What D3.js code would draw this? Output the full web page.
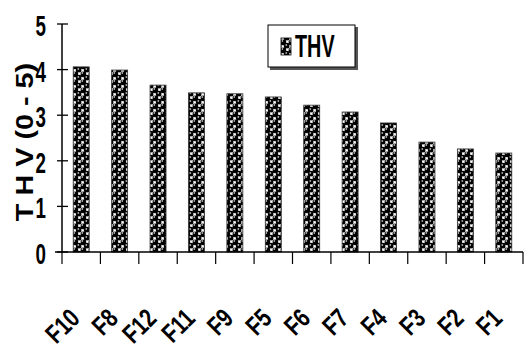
<!DOCTYPE html>
<html><head><meta charset="utf-8">
<script src="https://cdn.jsdelivr.net/npm/d3@7"></script>
<style>body{margin:0;background:#fff}svg{display:block}</style>
</head><body>
<script>
const categories = ["F10","F8","F12","F11","F9","F5","F6","F7","F4","F3","F2","F1"];
const thv = [4.06,3.99,3.66,3.49,3.47,3.40,3.22,3.07,2.83,2.41,2.26,2.17];
const yTicks = [0,1,2,3,4,5];
const seriesName = "THV";
const yTitle = "T H V  (0 - 5)";

const W=526,H=361;
const svg=d3.select("body").append("svg").attr("width",W).attr("height",H);
const font="'Liberation Sans Narrow','Arial Narrow','Liberation Sans',sans-serif";

const defs=svg.append("defs");
const pat=defs.append("pattern").attr("id","balls").attr("patternUnits","userSpaceOnUse")
  .attr("width",8).attr("height",8).attr("x",1).attr("y",0);
pat.append("rect").attr("width",8).attr("height",8).attr("fill","#fff");
pat.append("rect").attr("x",4.6).attr("y",0.6).attr("width",2.8).attr("height",2.8).attr("fill","none").attr("stroke","#888").attr("stroke-width",0.8);
pat.append("rect").attr("x",0.6).attr("y",4.6).attr("width",2.8).attr("height",2.8).attr("fill","none").attr("stroke","#888").attr("stroke-width",0.8);
[[2,2],[6,6]].forEach(([cx,cy])=>{
  pat.append("circle").attr("cx",cx).attr("cy",cy).attr("r",3.2).attr("fill","#000");
  pat.append("circle").attr("cx",cx-0.7).attr("cy",cy-1).attr("r",0.9).attr("fill","#aaa");
});

const x=d3.scaleBand().domain(categories).range([62,523]).paddingInner(0).paddingOuter(0);
const y=d3.scaleLinear().domain([0,5]).range([252,24]);
const bw=16;

svg.append("g").selectAll("rect").data(thv).join("rect")
  .attr("x",(d,i)=>x(categories[i])+x.bandwidth()/2-bw/2)
  .attr("y",d=>y(d)).attr("width",bw).attr("height",d=>y(0)-y(d))
  .attr("fill","url(#balls)").attr("stroke","#333").attr("stroke-width",0.8);

// y axis
const ya=svg.append("g");
ya.append("line").attr("x1",62).attr("x2",62).attr("y1",y(5)).attr("y2",y(0)).attr("stroke","#000").attr("stroke-width",1.5);
ya.selectAll("line.t").data(yTicks).join("line").attr("class","t")
  .attr("x1",57).attr("x2",68).attr("y1",d=>y(d)).attr("y2",d=>y(d)).attr("stroke","#000").attr("stroke-width",1.3);
ya.selectAll("text").data(yTicks).join("text")
  .attr("transform",d=>`translate(46,${y(d)+12}) scale(0.75,1.2)`)
  .attr("text-anchor","end").attr("font-family",font).attr("font-weight","bold").attr("font-size",25)
  .text(d=>d);

// x axis
const xa=svg.append("g");
xa.append("line").attr("x1",55).attr("x2",523).attr("y1",y(0)).attr("y2",y(0)).attr("stroke","#000").attr("stroke-width",1.5);
const bounds=categories.map(c=>x(c)).concat([x(categories[categories.length-1])+x.bandwidth()]);
xa.selectAll("line.t").data(bounds).join("line").attr("class","t")
  .attr("x1",d=>d).attr("x2",d=>d).attr("y1",y(0)).attr("y2",y(0)+12).attr("stroke","#000").attr("stroke-width",1.2);
xa.selectAll("text").data(categories).join("text")
  .attr("transform",c=>`translate(${x(c)+x.bandwidth()/2},${320}) rotate(-45) scale(0.85,1.1)`)
  .attr("text-anchor","end").attr("font-family",font).attr("font-weight","bold").attr("font-size",24)
  .text(c=>c);

// y title
svg.append("text").attr("transform",`translate(33,142) rotate(-90) scale(1.2,1)`)
  .attr("text-anchor","middle").attr("font-family",font).attr("font-weight","bold").attr("font-size",24)
  .text(yTitle);

// legend
const lg=svg.append("g");
lg.append("rect").attr("x",270).attr("y",27).attr("width",88).attr("height",43).attr("fill","#555");
lg.append("rect").attr("x",268).attr("y",25).attr("width",87).attr("height",42).attr("fill","#fff").attr("stroke","#000").attr("stroke-width",1);
lg.append("rect").attr("x",281).attr("y",38).attr("width",10).attr("height",17).attr("fill","url(#balls)").attr("stroke","#000").attr("stroke-width",0.8);
lg.append("text").attr("transform","translate(295,57) scale(0.9,1.4)").attr("font-family",font).attr("font-weight","bold").attr("font-size",22).text(seriesName);
</script>
</body></html>
